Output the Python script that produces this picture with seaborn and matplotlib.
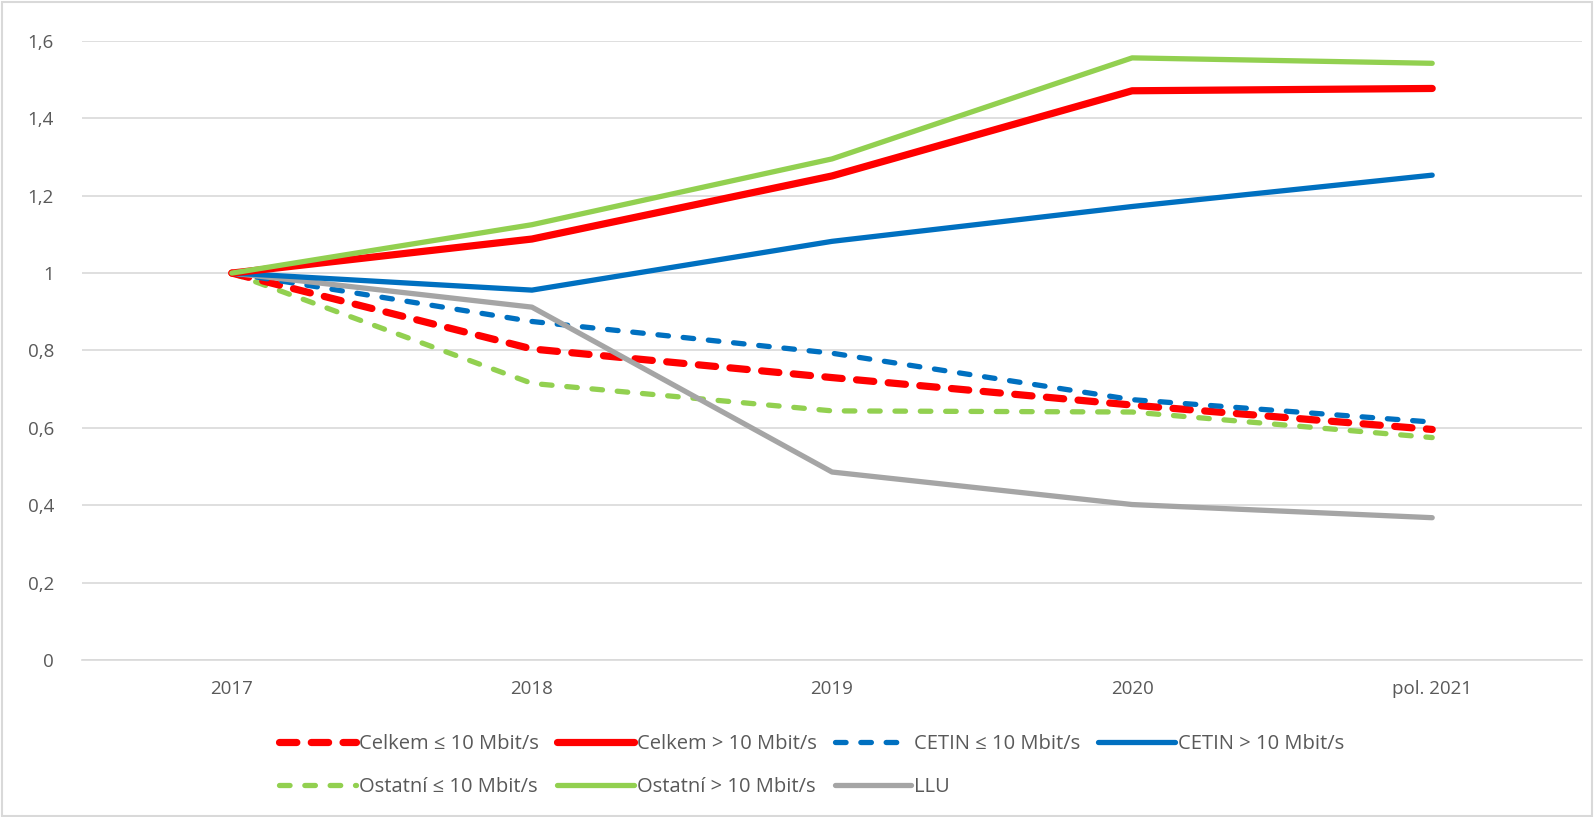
import numpy as np
import pandas as pd
import matplotlib.pyplot as plt
import seaborn as sns
from matplotlib.patches import Rectangle

# categories and series
years = ['2017', '2018', '2019', '2020', 'pol. 2021']
celkem_le10 = [1.0, 0.804, 0.730, 0.659, 0.596]
celkem_gt10 = [1.0, 1.088, 1.251, 1.471, 1.477]
cetin_le10 = [1.0, 0.875, 0.793, 0.673, 0.615]
cetin_gt10 = [1.0, 0.956, 1.082, 1.172, 1.253]
ostatni_le10 = [1.0, 0.715, 0.644, 0.641, 0.575]
ostatni_gt10 = [1.0, 1.125, 1.295, 1.556, 1.542]
llu = [1.0, 0.912, 0.486, 0.402, 0.368]

names = ['Celkem ≤ 10 Mbit/s', 'Celkem > 10 Mbit/s', 'CETIN ≤ 10 Mbit/s',
         'CETIN > 10 Mbit/s', 'Ostatní ≤ 10 Mbit/s', 'Ostatní > 10 Mbit/s', 'LLU']
values = [celkem_le10, celkem_gt10, cetin_le10, cetin_gt10, ostatni_le10, ostatni_gt10, llu]

red = '#FF0000'
blue = '#0070C0'
green = '#92D050'
grey = '#A5A5A5'
# color, linewidth, dashes (None = solid)
styles = {
    'Celkem ≤ 10 Mbit/s': (red, 5.2, (2.4, 2.0)),
    'Celkem > 10 Mbit/s': (red, 5.2, None),
    'CETIN ≤ 10 Mbit/s': (blue, 3.8, (2.0, 2.8)),
    'CETIN > 10 Mbit/s': (blue, 3.8, None),
    'Ostatní ≤ 10 Mbit/s': (green, 3.8, (2.0, 2.8)),
    'Ostatní > 10 Mbit/s': (green, 3.8, None),
    'LLU': (grey, 3.8, None),
}

rows = []
for n, v in zip(names, values):
    for i, val in enumerate(v):
        rows.append({'pos': i, 'serie': n, 'val': val})
df = pd.DataFrame(rows)

sns.set_style('white')
plt.rcParams['font.family'] = ['Open Sans', 'DejaVu Sans']

fig = plt.figure(figsize=(15.95, 8.17), dpi=100)
ax = fig.add_axes([0.0513, 0.192, 0.9407, 0.758])

draw_order = ['Ostatní ≤ 10 Mbit/s', 'Celkem ≤ 10 Mbit/s', 'CETIN ≤ 10 Mbit/s',
              'LLU', 'CETIN > 10 Mbit/s', 'Celkem > 10 Mbit/s', 'Ostatní > 10 Mbit/s']
lines = {}
for n in draw_order:
    c, lw, d = styles[n]
    sub = df[df.serie == n]
    sns.lineplot(data=sub, x='pos', y='val', color=c, linewidth=lw, ax=ax, label=n)
    ln = ax.lines[-1]
    ln.set_solid_capstyle('round')
    ln.set_solid_joinstyle('round')
    if d is not None:
        ln.set_dashes(d)
        ln.set_dash_capstyle('round')
    lines[n] = ln

ax.set_xlim(-0.5, 4.5)
ax.set_ylim(0, 1.6)
ticks = np.arange(0, 1.61, 0.2)
ax.set_yticks(ticks)
ax.set_yticklabels(['0' if t == 0 else ('1' if abs(t - 1) < 1e-9 else f'{t:.1f}'.replace('.', ','))
                    for t in ticks])
ax.set_xticks(range(len(years)))
ax.set_xticklabels(years)
ax.tick_params(axis='both', length=0, labelsize=13.5, labelcolor='#595959')
ax.tick_params(axis='y', pad=20)
ax.tick_params(axis='x', pad=14)
ax.set_xlabel('')
ax.set_ylabel('')
ax.grid(axis='y', color='#D9D9D9', linewidth=1.2)
ax.set_axisbelow(True)
for s in ['top', 'right', 'left']:
    ax.spines[s].set_visible(False)
ax.spines['bottom'].set_color('#D9D9D9')
ax.spines['bottom'].set_linewidth(1.2)

ax.get_legend().remove()
order = [0, 4, 1, 5, 2, 6, 3]
hs = [lines[names[i]] for i in order]
ls = [names[i] for i in order]
fig.legend(hs, ls, loc='center', bbox_to_anchor=(0.509, 0.063), ncol=4, frameon=False,
           fontsize=14.5, labelcolor='#595959', handlelength=3.8, handletextpad=0.15,
           columnspacing=0.9, labelspacing=1.1)

fig.patches.append(Rectangle((0.001, 0.001), 0.997, 0.997, transform=fig.transFigure,
                             fill=False, edgecolor='#D9D9D9', linewidth=1.5))

fig.savefig('out.png', dpi=100)
